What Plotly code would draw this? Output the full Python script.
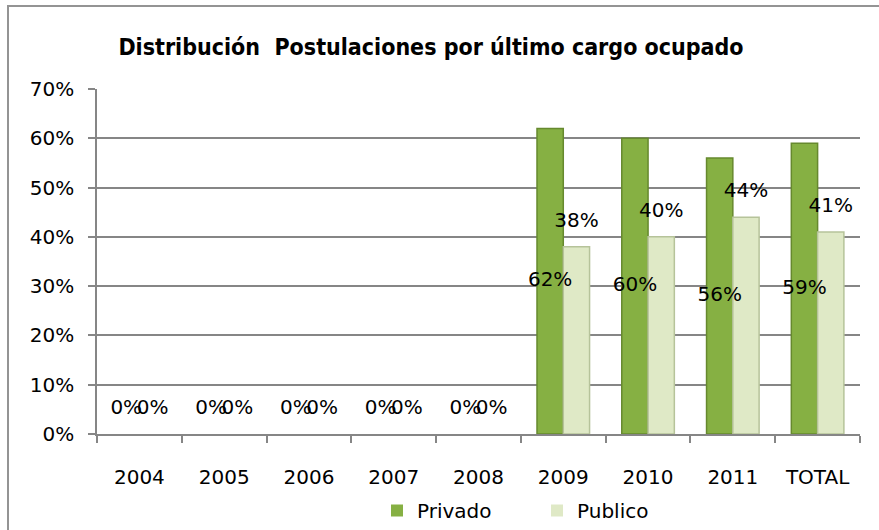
import plotly.graph_objects as go

categories = ["2004", "2005", "2006", "2007", "2008", "2009", "2010", "2011", "TOTAL"]
privado = [0, 0, 0, 0, 0, 0.62, 0.60, 0.56, 0.59]
publico = [0, 0, 0, 0, 0, 0.38, 0.40, 0.44, 0.41]
labels_privado = ["0%", "0%", "0%", "0%", "0%", "62%", "60%", "56%", "59%"]
labels_publico = ["0%", "0%", "0%", "0%", "0%", "38%", "40%", "44%", "41%"]

W, H = 879, 530
L, R, T, B = 97, 19, 89, 96
PW, PH = W - L - R, H - T - B
FONT = "DejaVu Sans, Verdana, sans-serif"
BW = 0.31  # bar width in category units

idx = list(range(len(categories)))

fig = go.Figure()
fig.add_trace(go.Bar(
    x=idx, y=privado, name="Privado", offset=-BW, width=BW,
    marker=dict(color="#86b043",
                line=dict(color="#66892e", width=[0 if v == 0 else 1.5 for v in privado])),
    legendrank=1,
))
fig.add_trace(go.Bar(
    x=idx, y=publico, name="Publico", offset=0, width=BW,
    marker=dict(color="#dfe9c6",
                line=dict(color="#b6c39a", width=[0 if v == 0 else 1.5 for v in publico])),
    legendrank=2,
))

# data labels: Privado centred in bar (above axis for zeros), Publico above bar
fig.add_trace(go.Scatter(
    x=[i - BW / 2 for i in idx],
    y=[v / 2 if v > 0 else v for v in privado],
    text=labels_privado, mode="markers+text",
    textposition=["middle center" if v > 0 else "top center" for v in privado],
    marker=dict(size=22, color="rgba(0,0,0,0)"),
    textfont=dict(size=20, color="black", family=FONT),
    showlegend=False, hoverinfo="skip", cliponaxis=False,
))
fig.add_trace(go.Scatter(
    x=[i + BW / 2 for i in idx], y=publico,
    text=labels_publico, mode="markers+text", textposition="top center",
    marker=dict(size=22, color="rgba(0,0,0,0)"),
    textfont=dict(size=20, color="black", family=FONT),
    showlegend=False, hoverinfo="skip", cliponaxis=False,
))

fig.update_layout(
    width=W, height=H,
    margin=dict(l=L, r=R, t=T, b=B, autoexpand=False),
    paper_bgcolor="white", plot_bgcolor="white",
    font=dict(family=FONT, size=20, color="black"),
    title=dict(text="<b>Distribución  Postulaciones por último cargo ocupado</b>",
               x=431 / W, xanchor="center", y=1 - 47 / H, yanchor="middle",
               font=dict(size=23, family="DejaVu Sans Condensed, DejaVu Sans, sans-serif")),
    barmode="overlay",
    showlegend=True,
    legend=dict(orientation="h", xref="container", x=377 / W, xanchor="left",
                yref="container", y=0.0, yanchor="bottom", bgcolor="rgba(0,0,0,0)",
                font=dict(size=20), itemwidth=30, entrywidth=115, entrywidthmode="pixels"),
    xaxis=dict(range=[-0.5, len(categories) - 0.5], tickvals=idx, ticktext=categories,
               ticks="", showline=True, linecolor="#868686", linewidth=1.5,
               ticklabelstandoff=24, showgrid=False, zeroline=False,
               minor=dict(tickvals=[i - 0.5 for i in idx] + [len(categories) - 0.5],
                          ticks="outside", ticklen=7, tickcolor="#868686", tickwidth=1.5,
                          showgrid=False)),
    yaxis=dict(range=[0, 0.7], dtick=0.1, tickformat=".0%", showline=True,
               linecolor="#868686", linewidth=1.5, ticks="outside", ticklen=7,
               tickcolor="#868686", tickwidth=1.5, gridcolor="#868686", gridwidth=1.5,
               zeroline=False, ticklabelstandoff=10),
    shapes=[dict(type="rect", xref="paper", yref="paper",
                 x0=-(L - 8) / PW, x1=1 + (R + 10) / PW,
                 y0=-(B + 10) / PH, y1=1 + (T - 6) / PH,
                 line=dict(color="#949494", width=2))],
)

fig.write_html("out.html", config={"displayModeBar": False},
               post_script="document.body.style.margin='0px';")
